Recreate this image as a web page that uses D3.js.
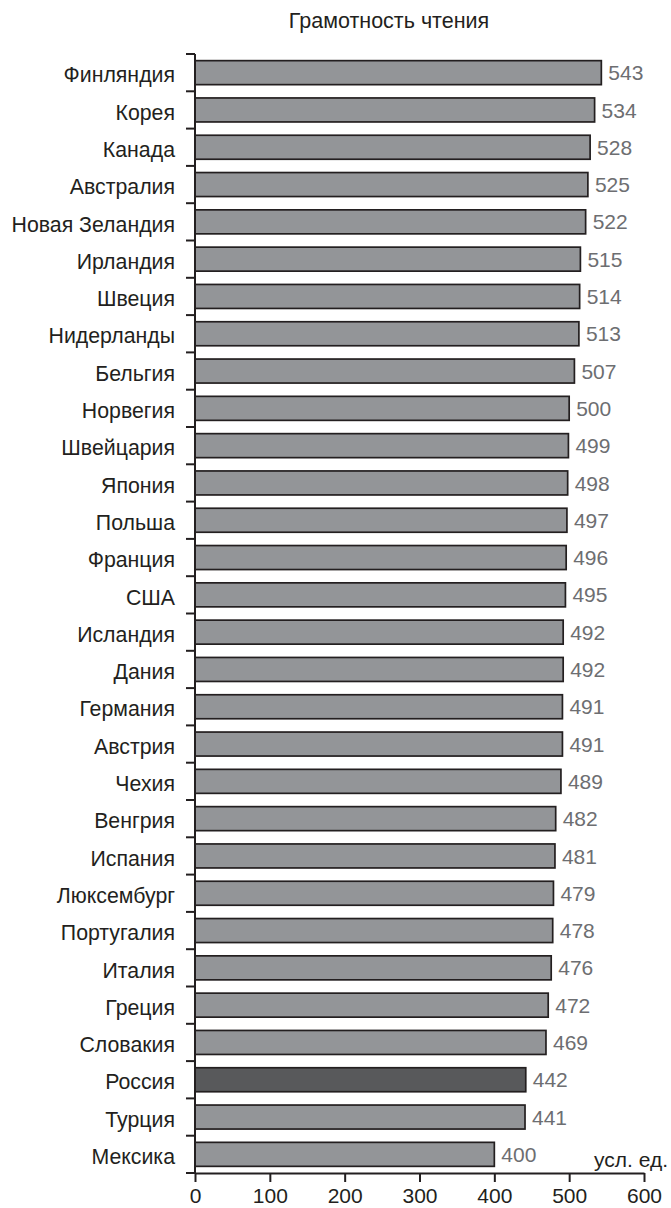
<!DOCTYPE html>
<html>
<head>
<meta charset="utf-8">
<script src="https://cdn.jsdelivr.net/npm/d3@7"></script>
<style>
  html, body { margin: 0; padding: 0; background: #fff; }
  text { font-family: "Liberation Sans", Arial, sans-serif; }
</style>
</head>
<body>
<svg id="chart" width="671" height="1208"></svg>
<script>
const title = "Грамотность чтения";
const unitLabel = "усл. ед.";
const categories = ["Финляндия","Корея","Канада","Австралия","Новая Зеландия","Ирландия","Швеция","Нидерланды","Бельгия","Норвегия","Швейцария","Япония","Польша","Франция","США","Исландия","Дания","Германия","Австрия","Чехия","Венгрия","Испания","Люксембург","Португалия","Италия","Греция","Словакия","Россия","Турция","Мексика"];
const values = [543,534,528,525,522,515,514,513,507,500,499,498,497,496,495,492,492,491,491,489,482,481,479,478,476,472,469,442,441,400];
const highlight = ["Россия"];
const xTicks = [0,100,200,300,400,500,600];

(function () {
const svg = d3.select("#chart");
const mLeft = 195, mRight = 644, mTop = 54, mBottom = 1173;

const x = d3.scaleLinear().domain([0, 600]).range([mLeft, mRight]);
const y = d3.scaleBand().domain(categories).range([mTop, mBottom]).paddingInner(0).paddingOuter(0);
const step = y.step();
const barH = 24;

// title
svg.append("text").attr("x", 389).attr("y", 28).attr("text-anchor", "middle")
  .attr("font-size", 21.5).attr("fill", "#231f20").text(title);

// bars
const data = categories.map((c, i) => ({c, v: values[i]}));
svg.append("g").selectAll("rect").data(data).join("rect")
  .attr("x", x(0))
  .attr("y", d => y(d.c) + (step - barH) / 2)
  .attr("width", d => x(d.v) - x(0))
  .attr("height", barH)
  .attr("fill", d => highlight.includes(d.c) ? "#58595b" : "#939598")
  .attr("stroke", "#231f20")
  .attr("stroke-width", 1.7);

// value labels
svg.append("g").selectAll("text").data(data).join("text")
  .attr("x", d => x(d.v) + 7)
  .attr("y", d => y(d.c) + step / 2)
  .attr("dy", "0.36em")
  .attr("font-size", 21)
  .attr("fill", "#6d6e71")
  .text(d => d.v);

// category labels
svg.append("g").selectAll("text").data(data).join("text")
  .attr("x", 175)
  .attr("y", d => y(d.c) + step / 2 + 2)
  .attr("dy", "0.36em")
  .attr("text-anchor", "end")
  .attr("font-size", 21.3)
  .attr("fill", "#231f20")
  .text(d => d.c);

// y axis line and boundary ticks
const yAxis = svg.append("g");
yAxis.append("line").attr("x1", mLeft).attr("x2", mLeft).attr("y1", mTop).attr("y2", mBottom)
  .attr("stroke", "#231f20").attr("stroke-width", 2);
const bounds = d3.range(categories.length + 1).map(i => i < categories.length ? y(categories[i]) : mBottom);
yAxis.selectAll("line.tk").data(bounds).join("line").attr("class", "tk")
  .attr("x1", mLeft - 9).attr("x2", mLeft).attr("y1", d => d).attr("y2", d => d)
  .attr("stroke", "#231f20").attr("stroke-width", 2);

// x axis
const xAxis = d3.axisBottom(x).tickValues(xTicks).tickSize(9).tickSizeOuter(0).tickPadding(6);
const gx = svg.append("g").attr("transform", `translate(0,${mBottom})`).call(xAxis);
gx.select(".domain").attr("stroke", "#231f20").attr("stroke-width", 2);
gx.selectAll(".tick line").attr("stroke", "#231f20").attr("stroke-width", 2);
gx.selectAll(".tick text").attr("font-size", 21).attr("fill", "#231f20")
  .attr("font-family", "Liberation Sans, Arial, sans-serif");

// unit label
svg.append("text").attr("x", 668).attr("y", 1167).attr("text-anchor", "end")
  .attr("font-size", 21).attr("fill", "#231f20").text(unitLabel);
})();
</script>
</body>
</html>
